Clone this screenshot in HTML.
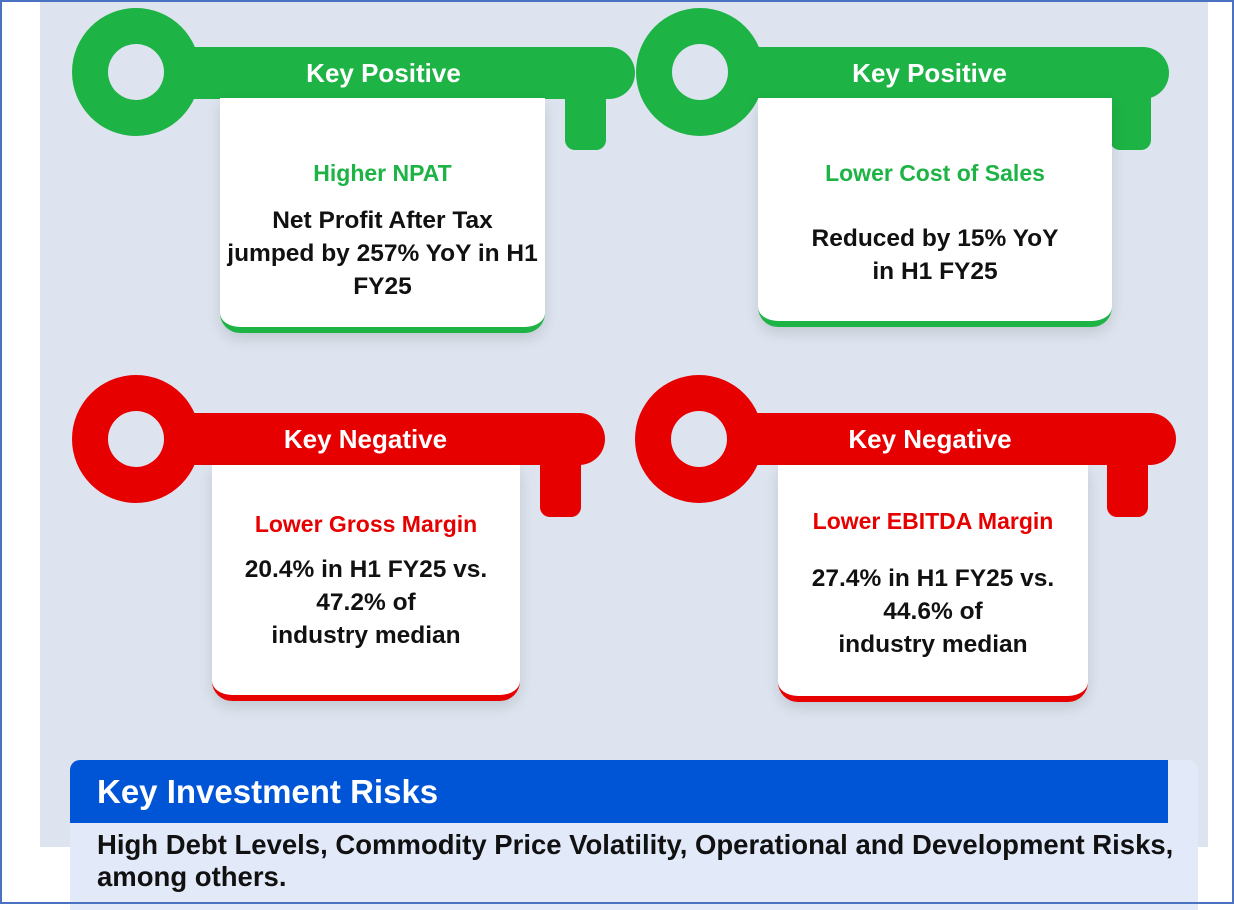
<!DOCTYPE html>
<html><head><meta charset="utf-8"><style>
*{margin:0;padding:0;box-sizing:border-box}
body{width:1234px;height:904px;position:relative;overflow:hidden;background:#fff;font-family:"Liberation Sans",sans-serif}
.frame{position:absolute;left:0;top:0;width:1234px;height:904px;border:2px solid #4a72c0;z-index:50;pointer-events:none}
.panel{position:absolute;left:40px;top:0;width:1168px;height:847px;background:#dde4ef}
.abs{position:absolute}
.ring{position:absolute;width:128px;height:128px;border-radius:50%}
.hole{position:absolute;left:36px;top:36px;width:56px;height:56px;border-radius:50%;background:#dde4ef}
.bar{position:absolute;height:52px;border-radius:0 26px 26px 0;color:#fff;font-weight:bold;font-size:26px;line-height:52px;text-align:center}
.prong{position:absolute;width:41px;border-radius:0 0 10px 10px}
.card{position:absolute;background:#fff;border-radius:0 0 20px 20px;text-align:center;box-shadow:0 6px 14px rgba(0,0,0,0.12)}
.card .t{position:absolute;left:-20px;right:-20px;font-size:23px;font-weight:bold;line-height:30px}
.card .b{position:absolute;left:-20px;right:-20px;font-size:24.5px;font-weight:bold;color:#111;line-height:33px}
.g{background:#1db345}.r{background:#e60000}
</style></head><body>
<div class="frame"></div>
<div class="panel"></div>

<div class="abs">
<div class="ring g" style="left:72px;top:8px"><div class="hole"></div></div>
<div class="prong g" style="left:565px;top:80px;height:70px"></div>
<div class="bar g" style="left:180px;top:47px;width:455px"><span style="position:relative;left:-24px">Key Positive</span></div>
<div class="card" style="left:220px;top:98px;width:325px;height:235px;border-bottom:6px solid #1db345">
<div class="t" style="top:60px;color:#1db345">Higher NPAT</div>
<div class="b" style="top:106px">Net Profit After Tax<br>jumped by 257% YoY in H1<br>FY25</div>
</div></div>

<div class="abs">
<div class="ring g" style="left:636px;top:8px"><div class="hole"></div></div>
<div class="prong g" style="left:1110px;top:80px;height:70px"></div>
<div class="bar g" style="left:744px;top:47px;width:425px"><span style="position:relative;left:-27px">Key Positive</span></div>
<div class="card" style="left:758px;top:98px;width:354px;height:229px;border-bottom:6px solid #1db345">
<div class="t" style="top:60px;color:#1db345">Lower Cost of Sales</div>
<div class="b" style="top:124px">Reduced by 15% YoY<br>in H1 FY25</div>
</div></div>

<div class="abs">
<div class="ring r" style="left:72px;top:375px"><div class="hole"></div></div>
<div class="prong r" style="left:540px;top:450px;height:67px"></div>
<div class="bar r" style="left:180px;top:413px;width:425px"><span style="position:relative;left:-27px">Key Negative</span></div>
<div class="card" style="left:212px;top:465px;width:308px;height:236px;border-bottom:6px solid #e60000">
<div class="t" style="top:44px;color:#e60000">Lower Gross Margin</div>
<div class="b" style="top:88px">20.4% in H1 FY25 vs.<br>47.2% of<br>industry median</div>
</div></div>

<div class="abs">
<div class="ring r" style="left:635px;top:375px"><div class="hole"></div></div>
<div class="prong r" style="left:1107px;top:450px;height:67px"></div>
<div class="bar r" style="left:744px;top:413px;width:432px"><span style="position:relative;left:-30px">Key Negative</span></div>
<div class="card" style="left:778px;top:465px;width:310px;height:237px;border-bottom:6px solid #e60000">
<div class="t" style="top:41px;color:#e60000">Lower EBITDA Margin</div>
<div class="b" style="top:97px">27.4% in H1 FY25 vs.<br>44.6% of<br>industry median</div>
</div></div>

<div class="abs" style="left:70px;top:760px;width:1128px;height:150px;background:#e2eafa;border-radius:10px 10px 0 0"></div>
<div class="abs" style="left:70px;top:760px;width:1098px;height:63px;background:#0055d6;border-radius:10px 0 0 0;color:#fff;font-weight:bold;font-size:33px;line-height:63px;padding-left:27px">Key Investment Risks</div>
<div class="abs" style="left:97px;top:829px;width:1110px;font-size:27.5px;font-weight:bold;color:#111;line-height:32px;white-space:nowrap">High Debt Levels, Commodity Price Volatility, Operational and Development Risks,<br>among others.</div>
</body></html>
